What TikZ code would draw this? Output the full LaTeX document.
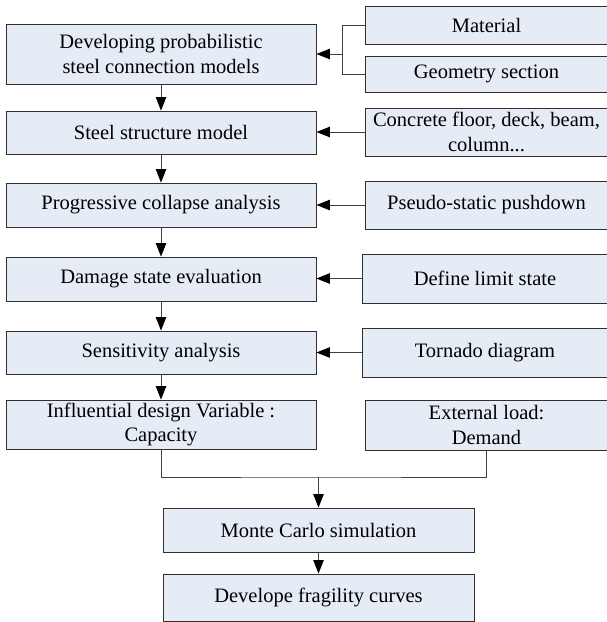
\documentclass[tikz,border=0pt]{standalone}
\usepackage{fontspec}
\setmainfont{Liberation Serif}
\usetikzlibrary{arrows.meta}
\definecolor{boxfill}{HTML}{E6ECF6}
\definecolor{boxline}{HTML}{303030}
\definecolor{conn}{HTML}{404040}
\tikzset{
  flowbox/.style={draw=boxline, line width=0.9pt, fill=boxfill, rectangle, inner sep=0pt,
    align=center, font=\fontsize{20.5}{24.5}\selectfont, text=black},
  conline/.style={draw=conn, line width=0.9pt},
  arr/.style={conline, -{Triangle[length=13.5pt,width=10.5pt,color=black]}}
}
\begin{document}
\begin{tikzpicture}[x=1pt,y=-1pt]
\useasboundingbox (0,0) rectangle (607,622);
% left column
\node[flowbox, minimum width=310pt, minimum height=60pt] (l1) at (161,54) {Developing probabilistic\\steel connection models};
\node[flowbox, minimum width=310pt, minimum height=43pt] (l2) at (161,132.5) {Steel structure model};
\node[flowbox, minimum width=310pt, minimum height=44pt] (l3) at (161,205) {Progressive collapse analysis};
\node[flowbox, minimum width=310pt, minimum height=44pt] (l4) at (161,279) {Damage state evaluation};
\node[flowbox, minimum width=310pt, minimum height=43pt] (l5) at (161,352.5) {Sensitivity analysis};
\node[flowbox, minimum width=310pt, minimum height=49pt] (l6) at (161,424.5) {Influential design Variable :\\Capacity};
% right column
\node[flowbox, minimum width=243pt, minimum height=37.3pt] (r1) at (486.5,25.3) {Material};
\node[flowbox, minimum width=243pt, minimum height=36pt] (r2) at (486.5,74) {Geometry section};
\node[flowbox, minimum width=243pt, minimum height=48pt] (r3) at (486.5,132) {Concrete floor, deck, beam,\\column...};
\node[flowbox, minimum width=243pt, minimum height=48pt] (r4) at (486.5,205) {Pseudo-static pushdown};
\node[flowbox, minimum width=246pt, minimum height=49pt] (r5) at (485,278.5) {Define limit state};
\node[flowbox, minimum width=246pt, minimum height=49pt] (r6) at (485,352.5) {Tornado diagram};
\node[flowbox, minimum width=243pt, minimum height=50pt] (r7) at (486.5,425) {External load:\\Demand};
% bottom
\node[flowbox, minimum width=311pt, minimum height=44pt] (b1) at (318.5,530) {Monte Carlo simulation};
\node[flowbox, minimum width=311pt, minimum height=47pt] (b2) at (318.5,597.5) {Develope fragility curves};
% connectors
\coordinate (j) at (342.7,54);
\draw[conline] (r1.west) -| (j) |- (r2.west);
\draw[arr] (j) -- (l1.east);
\draw[arr] (r3.west) -- (l2.east |- r3.west);
\draw[arr] (r4.west) -- (l3.east);
\draw[arr] (r5.west) -- (l4.east |- r5.west);
\draw[arr] (r6.west) -- (l5.east |- r6.west);
\draw[arr] (l1.south) -- (l2.north);
\draw[arr] (l2.south) -- (l3.north);
\draw[arr] (l3.south) -- (l4.north);
\draw[arr] (l4.south) -- (l5.north);
\draw[arr] (l5.south) -- (l6.north);
\coordinate (m) at (318.5,477);
\draw[conline] (l6.south) |- (m) -| (r7.south);
\draw[arr] (m) -- (b1.north);
\draw[arr] (b1.south) -- (b2.north);
\end{tikzpicture}
\end{document}
